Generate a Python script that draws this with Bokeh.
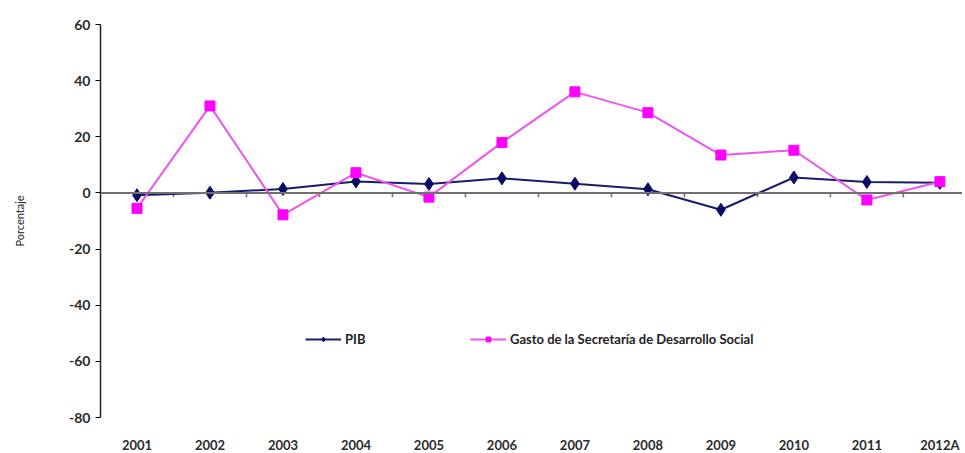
from bokeh.plotting import figure
from bokeh.models import Span, Legend, LegendItem, FixedTicker, ColumnDataSource, Range1d
from bokeh.embed import file_html
from bokeh.resources import INLINE

years = ["2001", "2002", "2003", "2004", "2005", "2006", "2007", "2008", "2009", "2010", "2011", "2012A"]
pib = [-0.8, 0.1, 1.4, 4.1, 3.2, 5.2, 3.3, 1.3, -6.0, 5.5, 3.9, 3.6]
gasto = [-5.5, 31.0, -7.8, 7.2, -1.5, 18.0, 36.0, 28.6, 13.5, 15.2, -2.5, 4.0]
y_ticks = [-80, -60, -40, -20, 0, 20, 40, 60]

xs = list(range(1, len(years) + 1))
FONT = "Lato"

p = figure(frame_width=862, frame_height=393, output_backend="svg", toolbar_location=None,
           x_range=Range1d(0.5, 12.31), y_range=Range1d(-80, 60),
           min_border_left=100, min_border_right=0, min_border_top=24, min_border_bottom=0)
p.outline_line_color = None
p.grid.visible = False
p.background_fill_color = "white"

# zero line with category separators
p.add_layout(Span(location=0, dimension="width", line_color="#707070", line_width=2))
bx = [x + 0.5 for x in xs[:-1]]
p.segment(x0=bx, x1=bx, y0=[0] * len(bx), y1=[-1.5] * len(bx), line_color="#707070", line_width=1.5)

src = ColumnDataSource(dict(x=xs, pib=pib, gasto=gasto))
l1 = p.line("x", "pib", source=src, line_color="#1a1a6e", line_width=2)
m1 = p.scatter("x", "pib", source=src, marker="diamond", size=13, fill_color="#0b0b66", line_color="#0b0b66")
l2 = p.line("x", "gasto", source=src, line_color="#ee55ee", line_width=2)
m2 = p.scatter("x", "gasto", source=src, marker="square", size=10, fill_color="#ff00ff", line_color="#ff00ff")

# axes
p.yaxis.ticker = FixedTicker(ticks=y_ticks)
p.yaxis.major_label_overrides = {t: str(t) for t in y_ticks}
p.yaxis.axis_line_color = "#222222"
p.yaxis.axis_line_width = 1.5
p.yaxis.major_tick_out = 5
p.yaxis.major_tick_in = 0
p.yaxis.minor_tick_line_color = None
p.yaxis.major_label_text_font = FONT
p.yaxis.major_label_text_font_size = "14px"
p.yaxis.major_label_text_font_style = "bold"
p.yaxis.major_label_text_color = "#2a2a2a"
p.yaxis.axis_label = "Porcentaje"
p.yaxis.axis_label_text_font = FONT
p.yaxis.axis_label_text_font_size = "11px"
p.yaxis.axis_label_text_font_style = "normal"
p.yaxis.axis_label_text_color = "#222222"
p.yaxis.axis_label_standoff = 40

p.xaxis.ticker = FixedTicker(ticks=xs)
p.xaxis.major_label_overrides = {x: y for x, y in zip(xs, years)}
p.xaxis.axis_line_color = None
p.xaxis.major_tick_line_color = None
p.xaxis.minor_tick_line_color = None
p.xaxis.major_label_standoff = 13
p.xaxis.major_label_text_font = FONT
p.xaxis.major_label_text_font_size = "13px"
p.xaxis.major_label_text_font_style = "bold"
p.xaxis.major_label_text_color = "#2a2a2a"

def make_legend(label, rs, loc):
    lg = Legend(items=[LegendItem(label=label, renderers=rs)], location=loc,
                border_line_color=None, background_fill_alpha=0,
                glyph_width=36, glyph_height=12, label_text_font=FONT,
                label_text_font_size="13px", label_text_font_style="bold",
                label_text_color="#222222", padding=2, margin=0, label_standoff=4)
    p.add_layout(lg)

make_legend("PIB", [l1, m1], (205, 70))
make_legend("Gasto de la Secretaría de Desarrollo Social", [l2, m2], (370, 70))

open("out.html", "w").write(file_html(p, INLINE))
